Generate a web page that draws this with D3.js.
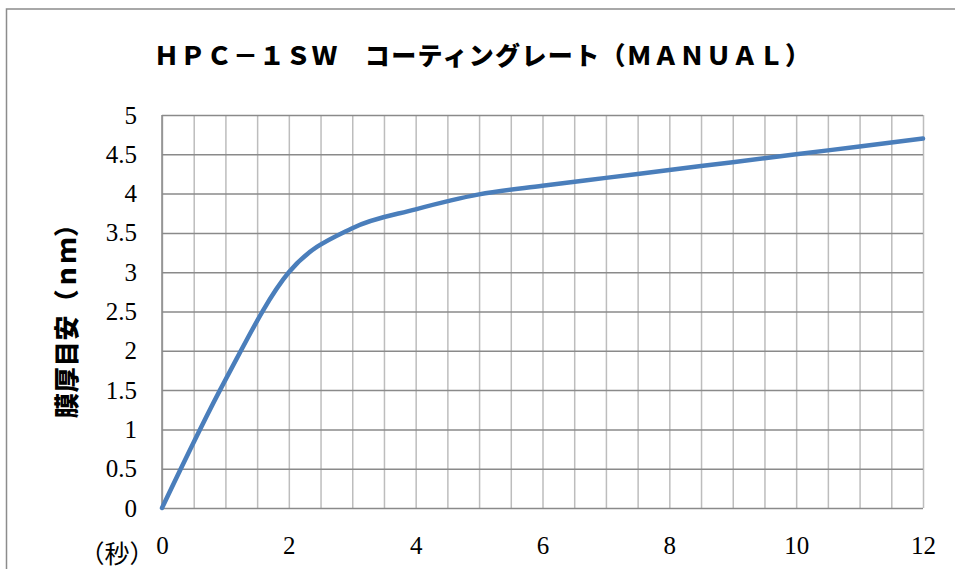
<!DOCTYPE html>
<html>
<head>
<meta charset="utf-8">
<script src="https://cdn.jsdelivr.net/npm/d3@7"></script>
<style>
  body { margin: 0; background: #fff; }
</style>
</head>
<body>
<div id="chart"></div>
<script>
// coating time (s) and estimated film thickness (nm)
const seconds = [0, 1, 2, 3, 4, 5, 6, 7, 8, 9, 10, 11, 12];
const thickness = [0, 1.63, 3.0, 3.56, 3.8, 3.99, 4.1, 4.2, 4.3, 4.4, 4.5, 4.6, 4.7];

const xTicks = [0, 2, 4, 6, 8, 10, 12];
const xGrid = d3.range(0, 12.01, 0.5);
const yTicks = [0, 0.5, 1, 1.5, 2, 2.5, 3, 3.5, 4, 4.5, 5];

const titleText = "ＨＰＣ－１ＳＷ　コーティングレート（ＭＡＮＵＡＬ）";
const yLabel = "膜厚目安（ｎｍ）";
const xUnit = "（秒）";

const width = 955, height = 569;
const margin = {top: 115, right: 32, bottom: 61, left: 162};
const innerW = width - margin.left - margin.right;
const innerH = height - margin.top - margin.bottom;

const tickFont = "'Liberation Serif', 'Times New Roman', serif";
const jpFont = "'Noto Sans CJK JP', sans-serif";

const svg = d3.select("#chart").append("svg")
    .attr("width", width)
    .attr("height", height);

// outer chart border (runs off the right/bottom edge)
svg.append("rect")
    .attr("x", 6.5).attr("y", 9)
    .attr("width", width + 20).attr("height", height + 20)
    .attr("fill", "none")
    .attr("stroke", "#8c8c8c")
    .attr("stroke-width", 1.5);

const x = d3.scaleLinear().domain([0, 12]).range([0, innerW]);
const y = d3.scaleLinear().domain([0, 5]).range([innerH, 0]);

const g = svg.append("g")
    .attr("transform", `translate(${margin.left},${margin.top})`);

// vertical grid (light)
g.append("g")
    .attr("transform", `translate(0,${innerH})`)
    .call(d3.axisBottom(x).tickValues(xGrid).tickSize(-innerH).tickFormat(""))
    .call(a => a.select(".domain").remove())
    .call(a => a.selectAll("line").attr("stroke", "#bdbdbd").attr("stroke-width", 1.5));

// horizontal grid (darker)
g.append("g")
    .call(d3.axisLeft(y).tickValues(yTicks).tickSize(-innerW).tickFormat(""))
    .call(a => a.select(".domain").remove())
    .call(a => a.selectAll("line").attr("stroke", "#8a8a8a").attr("stroke-width", 1.5));

// left axis line
g.append("line")
    .attr("x1", 0).attr("x2", 0).attr("y1", 0).attr("y2", innerH)
    .attr("stroke", "#8a8a8a").attr("stroke-width", 1.5);

// y tick labels
g.append("g")
    .call(d3.axisLeft(y).tickValues(yTicks).tickSize(0).tickPadding(25).tickFormat(d3.format("")))
    .call(a => a.select(".domain").remove())
    .call(a => a.selectAll("text")
        .attr("font-family", tickFont)
        .attr("font-size", 25)
        .attr("fill", "#000"));

// x tick labels
g.append("g")
    .attr("transform", `translate(0,${innerH})`)
    .call(d3.axisBottom(x).tickValues(xTicks).tickSize(0).tickPadding(28))
    .call(a => a.select(".domain").remove())
    .call(a => a.selectAll("text")
        .attr("font-family", tickFont)
        .attr("font-size", 25)
        .attr("fill", "#000"));

// curve
const line = d3.line()
    .x((d, i) => x(seconds[i]))
    .y(d => y(d))
    .curve(d3.curveCardinal.tension(0));

g.append("path")
    .datum(thickness)
    .attr("d", line)
    .attr("fill", "none")
    .attr("stroke", "#4a7ebb")
    .attr("stroke-width", 4.5)
    .attr("stroke-linecap", "round")
    .attr("stroke-linejoin", "round");

// title
svg.append("text")
    .attr("x", 154)
    .attr("y", 65)
    .attr("textLength", 656)
    .attr("lengthAdjust", "spacing")
    .attr("font-family", jpFont)
    .attr("font-weight", 900)
    .attr("font-size", 25)
    .attr("fill", "#000")
    .text(titleText);

// y axis title
svg.append("text")
    .attr("transform", "translate(65,315) rotate(-90)")
    .attr("text-anchor", "middle")
    .attr("dominant-baseline", "central")
    .attr("textLength", 206)
    .attr("lengthAdjust", "spacing")
    .attr("font-family", jpFont)
    .attr("font-weight", 900)
    .attr("font-size", 25)
    .attr("fill", "#000")
    .text(yLabel);

// unit label under the y axis
svg.append("text")
    .attr("x", 117)
    .attr("y", 563)
    .attr("text-anchor", "middle")
    .attr("font-family", jpFont)
    .attr("font-size", 25)
    .attr("fill", "#000")
    .text(xUnit);
</script>
</body>
</html>
